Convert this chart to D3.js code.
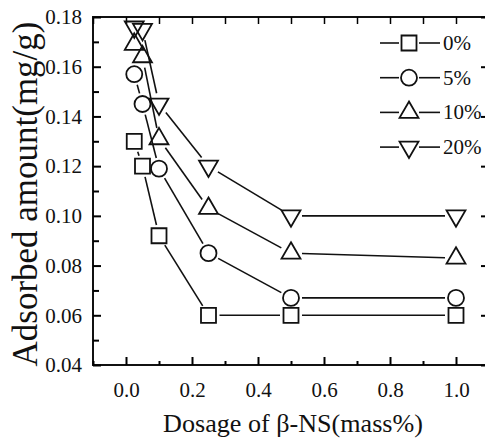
<!DOCTYPE html>
<html>
<head>
<meta charset="utf-8">
<script src="https://cdn.jsdelivr.net/npm/d3@7"></script>
<style>
  body { margin: 0; background: #fff; }
  svg text { font-family: 'Liberation Serif', 'Times New Roman', 'DejaVu Serif', serif !important; fill: #111; }
</style>
</head>
<body>
<div id="chart"></div>
<script>
const dosage = [0.025, 0.05, 0.1, 0.25, 0.5, 1.0]
const s0 = [0.130, 0.120, 0.092, 0.060, 0.060, 0.060]
const s5 = [0.157, 0.145, 0.119, 0.085, 0.067, 0.067]
const s10 = [0.169, 0.164, 0.131, 0.103, 0.085, 0.083]
const s20 = [0.176, 0.175, 0.145, 0.120, 0.100, 0.100]
const seriesNames = ['0%', '5%', '10%', '20%']
const xTicks = [0.0, 0.2, 0.4, 0.6, 0.8, 1.0]
const yTicks = [0.04, 0.06, 0.08, 0.10, 0.12, 0.14, 0.16, 0.18]

const series = [
  { name: seriesNames[0], values: s0, shape: 'square' },
  { name: seriesNames[1], values: s5, shape: 'circle' },
  { name: seriesNames[2], values: s10, shape: 'up' },
  { name: seriesNames[3], values: s20, shape: 'down' }
]

const width = 485
const height = 439
const plotLeft = 93, plotTop = 17, plotRight = 489, plotBottom = 365
const serif = 'Liberation Serif, Times New Roman, DejaVu Serif, serif'

let svg = d3.select('#chart')
  .append('svg')
  .attr('width', width)
  .attr('height', height)
  .attr('font-family', serif)

let x = d3.scaleLinear().domain([-0.1, 1.1]).range([plotLeft, plotRight])
let y = d3.scaleLinear().domain([0.04, 0.18]).range([plotBottom, plotTop])

// frame
svg.append('rect')
  .attr('x', plotLeft).attr('y', plotTop)
  .attr('width', plotRight - plotLeft).attr('height', plotBottom - plotTop)
  .attr('fill', 'none').attr('stroke', '#111').attr('stroke-width', 2)

const xMinor = d3.range(-0.1, 1.11, 0.1).map(v => +v.toFixed(2))
const yMinor = d3.range(0.05, 0.18, 0.02).map(v => +v.toFixed(2))

// bottom / top ticks
svg.append('g').attr('transform', `translate(0,${plotBottom})`)
  .call(d3.axisBottom(x).tickValues(xTicks).tickSizeInner(-8).tickSizeOuter(0).tickFormat(d3.format('.1f')).tickPadding(17))
  .call(g => g.select('.domain').remove())
  .call(g => g.attr('font-family', serif))
  .call(g => g.selectAll('line').attr('stroke-width', 2))
  .call(g => g.selectAll('text').attr('font-size', 21))

svg.append('g').attr('transform', `translate(0,${plotBottom})`)
  .call(d3.axisBottom(x).tickValues(xMinor.filter(v => !xTicks.includes(v))).tickSizeInner(-4).tickSizeOuter(0).tickFormat(''))
  .call(g => g.select('.domain').remove())
  .call(g => g.selectAll('line').attr('stroke-width', 2))

svg.append('g').attr('transform', `translate(0,${plotTop})`)
  .call(d3.axisTop(x).tickValues(xMinor).tickSizeInner(-7).tickSizeOuter(0).tickFormat(''))
  .call(g => g.select('.domain').remove())
  .call(g => g.selectAll('line').attr('stroke-width', 1.5))

// left / right ticks
svg.append('g').attr('transform', `translate(${plotLeft},0)`)
  .call(d3.axisLeft(y).tickValues(yTicks).tickSizeInner(-8).tickSizeOuter(0).tickFormat(d3.format('.2f')).tickPadding(11))
  .call(g => g.select('.domain').remove())
  .call(g => g.attr('font-family', serif))
  .call(g => g.selectAll('line').attr('stroke-width', 2))
  .call(g => g.selectAll('text').attr('font-size', 21))

svg.append('g').attr('transform', `translate(${plotLeft},0)`)
  .call(d3.axisLeft(y).tickValues(yMinor).tickSizeInner(-6).tickSizeOuter(0).tickFormat(''))
  .call(g => g.select('.domain').remove())
  .call(g => g.selectAll('line').attr('stroke-width', 2))

svg.append('g').attr('transform', `translate(${plotRight},0)`)
  .call(d3.axisRight(y).tickValues(yTicks).tickSizeInner(-8).tickSizeOuter(0).tickFormat(''))
  .call(g => g.select('.domain').remove())
  .call(g => g.selectAll('line').attr('stroke-width', 2))

svg.append('g').attr('transform', `translate(${plotRight},0)`)
  .call(d3.axisRight(y).tickValues(yMinor).tickSizeInner(-4).tickSizeOuter(0).tickFormat(''))
  .call(g => g.select('.domain').remove())
  .call(g => g.selectAll('line').attr('stroke-width', 2))

// markers
function symbolPath (shape) {
  if (shape === 'square') return d3.symbol(d3.symbolSquare, 225)()
  if (shape === 'circle') return d3.symbol(d3.symbolCircle, 201)()
  return d3.symbol(d3.symbolTriangle, 155)()
}
function symbolTransform (shape, px, py) {
  return shape === 'down' ? `translate(${px},${py}) rotate(180)` : `translate(${px},${py})`
}

// segments stop short of the symbols
const gap = 11
series.forEach(s => {
  let pts = dosage.map((d, i) => [x(d), y(s.values[i])])
  for (let i = 0; i < pts.length - 1; i++) {
    let [x1, y1] = pts[i], [x2, y2] = pts[i + 1]
    let len = Math.hypot(x2 - x1, y2 - y1)
    if (len <= gap * 2) continue
    let ux = (x2 - x1) / len, uy = (y2 - y1) / len
    svg.append('line')
      .attr('x1', x1 + ux * gap).attr('y1', y1 + uy * gap)
      .attr('x2', x2 - ux * gap).attr('y2', y2 - uy * gap)
      .attr('stroke', '#111').attr('stroke-width', 1.6)
  }
})

series.forEach(s => {
  svg.append('g').selectAll('path')
    .data(dosage)
    .enter()
    .append('path')
    .attr('d', symbolPath(s.shape))
    .attr('transform', (d, i) => symbolTransform(s.shape, x(d), y(s.values[i])))
    .attr('fill', 'none')
    .attr('stroke', '#111')
    .attr('stroke-width', 1.8)
})

// legend
let legend = svg.append('g')
series.forEach((s, i) => {
  let ly = 43 + i * 34.7
  legend.append('line').attr('x1', 380).attr('x2', 399).attr('y1', ly).attr('y2', ly)
    .attr('stroke', '#111').attr('stroke-width', 1.6)
  legend.append('line').attr('x1', 419).attr('x2', 440).attr('y1', ly).attr('y2', ly)
    .attr('stroke', '#111').attr('stroke-width', 1.6)
  legend.append('path')
    .attr('d', symbolPath(s.shape))
    .attr('transform', symbolTransform(s.shape, 409, ly))
    .attr('fill', 'none').attr('stroke', '#111').attr('stroke-width', 1.8)
  legend.append('text')
    .attr('x', 443).attr('y', ly + 7)
    .attr('font-size', 21)
    .text(s.name)
})

// axis titles, sized to span the same length as in the figure
function fitText (sel, target) {
  let len = sel.node().getComputedTextLength()
  let fs = +sel.attr('font-size')
  sel.attr('font-size', fs * target / len)
}

svg.append('text')
  .attr('x', 293).attr('y', 432)
  .attr('text-anchor', 'middle')
  .attr('font-size', 26)
  .text('Dosage of β-NS(mass%)')
  .call(fitText, 260)

svg.append('text')
  .attr('transform', 'translate(37,194) rotate(-90)')
  .attr('text-anchor', 'middle')
  .attr('font-size', 30)
  .text('Adsorbed amount(mg/g)')
  .call(fitText, 345)
</script>
</body>
</html>
